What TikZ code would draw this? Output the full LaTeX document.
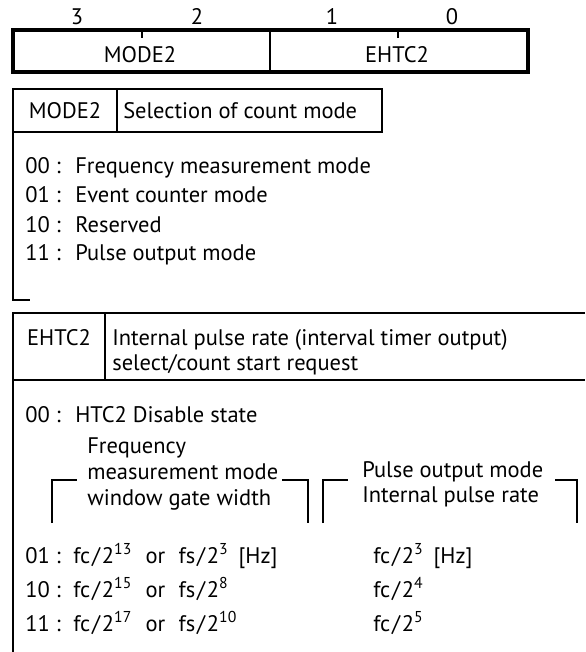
\documentclass[tikz,border=0pt]{standalone}
\usepackage{fontspec}
\setmainfont{PT Sans}
\usepackage{tikz}
\usetikzlibrary{calc}

\begin{document}
\begin{tikzpicture}[
    txt/.style={anchor=base west, inner sep=0pt, font=\fontsize{16}{19}\selectfont},
    ctr/.style={anchor=base, inner sep=0pt, font=\fontsize{16}{19}\selectfont},
    rule/.style={line width=1pt},
    heavyrule/.style={line width=2.3pt}]
    \useasboundingbox (0,0) rectangle (14.625,-16.3);

    % register
    \draw[heavyrule] (0.325,-0.75) rectangle (13.2,-1.8);
    \draw[rule] (6.75,-0.75) -- (6.75,-1.8);
    \draw[rule] (3.55,-0.75) -- (3.55,-0.95);
    \draw[rule] (9.95,-0.75) -- (9.95,-0.95);
    \node[ctr] (b3) at (1.925,-0.6) {3};
    \node[ctr] (b2) at ($(b3.base) + (3,0)$) {2};
    \node[ctr] (b1) at ($(b2.base) + (3.375,0)$) {1};
    \node[ctr] (b0) at ($(b1.base) + (3,0)$) {0};
    \node[ctr] (fm) at (3.5,-1.55) {MODE2};
    \node[ctr] (fe) at (9.925,-1.55) {EHTC2};

    % MODE2 table
    \draw[rule] (0.325,-2.225) rectangle (9.55,-3.3);
    \draw[rule] (2.925,-2.225) -- (2.925,-3.3);
    \draw[rule] (0.325,-3.3) -- (0.325,-7.5) -- (0.75,-7.5);
    \node[ctr] (m2) at (1.625,-2.95) {MODE2};
    \node[txt] (m2d) at (3.075,-2.95) {Selection of count mode};

    \node[txt] (m00) at (0.625,-4.325) {00 :};
    \node[txt] (m00t) at ($(m00.base west) + (1.25,0)$) {Frequency measurement mode};
    \node[txt] (m01) at (0.625,-5.05) {01 :};
    \node[txt] (m01t) at ($(m01.base west) + (1.25,0)$) {Event counter mode};
    \node[txt] (m10) at (0.625,-5.8) {10 :};
    \node[txt] (m10t) at ($(m10.base west) + (1.25,0)$) {Reserved};
    \node[txt] (m11) at (0.625,-6.5) {11 :};
    \node[txt] (m11t) at ($(m11.base west) + (1.25,0)$) {Pulse output mode};

    % EHTC2 table
    \draw[rule] (14.625,-7.825) -- (0.325,-7.825) -- (0.325,-9.5) -- (14.625,-9.5);
    \draw[rule] (2.625,-7.825) -- (2.625,-9.5);
    \draw[line width=1.4pt] (0.325,-9.5) -- (0.325,-16.3);
    \node[ctr] (e2) at (1.475,-8.625) {EHTC2};
    \node[txt] (e2d) at (2.8,-8.625) {Internal pulse rate (interval timer output)};
    \node[txt] (e2e) at ($(e2d.base west) + (0,-0.625)$) {select/count start request};

    \node[txt] (e00) at (0.625,-10.55) {00 :};
    \node[txt] (e00t) at ($(e00.base west) + (1.25,0)$) {HTC2 Disable state};

    % column heads
    \node[txt] (hf1) at (2.175,-11.325) {Frequency};
    \node[txt] (hf2) at ($(hf1.base west) + (0,-0.65)$) {measurement mode};
    \node[txt] (hf3) at ($(hf2.base west) + (0,-0.65)$) {window gate width};
    \node[txt] (hp1) at (9.05,-11.925) {Pulse output mode};
    \node[txt] (hp2) at ($(hp1.base west) + (0,-0.625)$) {Internal pulse rate};
    \draw[rule] (1.3,-13.075) -- (1.3,-12.0) -- (1.925,-12.0);
    \draw[rule] (7.05,-12.0) -- (7.7,-12.0) -- (7.7,-13.075);
    \draw[rule] (8.075,-13.075) -- (8.075,-12.0) -- (8.7,-12.0);
    \draw[rule] (13.875,-12.0) -- (14.425,-12.0) -- (14.425,-13.075);

    % rates
    \node[txt] (e01) at (0.625,-14.075) {01 :};
    \node[txt] (e01f) at ($(e01.base west) + (1.2,0)$) {fc\hspace{0.08em}/\hspace{0.08em}2\textsuperscript{13}\hspace{0.6em}or\hspace{0.6em}fs\hspace{0.08em}/\hspace{0.08em}2\textsuperscript{3}\hspace{0.45em}[Hz]};
    \node[txt] (e01p) at ($(e01.base west) + (8.7,0)$) {fc\hspace{0.08em}/\hspace{0.08em}2\textsuperscript{3}\hspace{0.45em}[Hz]};
    \node[txt] (e10) at (0.625,-14.925) {10 :};
    \node[txt] (e10f) at ($(e10.base west) + (1.2,0)$) {fc\hspace{0.08em}/\hspace{0.08em}2\textsuperscript{15}\hspace{0.6em}or\hspace{0.6em}fs\hspace{0.08em}/\hspace{0.08em}2\textsuperscript{8}};
    \node[txt] (e10p) at ($(e10.base west) + (8.7,0)$) {fc\hspace{0.08em}/\hspace{0.08em}2\textsuperscript{4}};
    \node[txt] (e11) at (0.625,-15.775) {11 :};
    \node[txt] (e11f) at ($(e11.base west) + (1.2,0)$) {fc\hspace{0.08em}/\hspace{0.08em}2\textsuperscript{17}\hspace{0.6em}or\hspace{0.6em}fs\hspace{0.08em}/\hspace{0.08em}2\textsuperscript{10}};
    \node[txt] (e11p) at ($(e11.base west) + (8.7,0)$) {fc\hspace{0.08em}/\hspace{0.08em}2\textsuperscript{5}};
\end{tikzpicture}
\end{document}
